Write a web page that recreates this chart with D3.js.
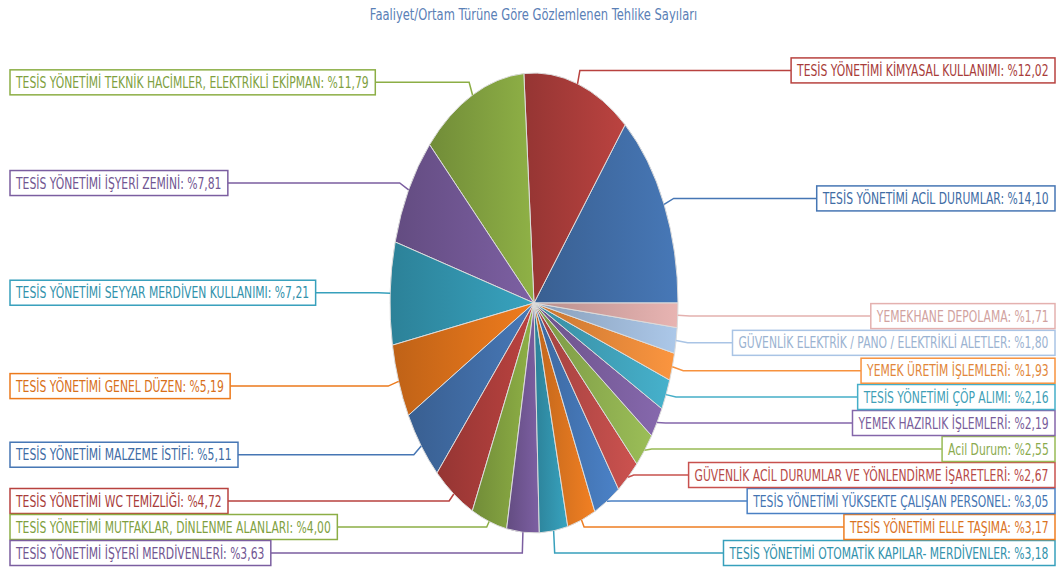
<!DOCTYPE html>
<html>
<head>
<meta charset="utf-8">
<script src="https://cdn.jsdelivr.net/npm/d3@7/dist/d3.min.js"></script>
<style>
  body { margin: 0; background: #fff; }
  svg { display: block; }
</style>
</head>
<body>
<script>
// ---- data ----
const chartTitle = "Faaliyet/Ortam Türüne Göre Gözlemlenen Tehlike Sayıları";

const categories = [
  "TESİS YÖNETİMİ ACİL DURUMLAR",
  "TESİS YÖNETİMİ KİMYASAL KULLANIMI",
  "TESİS YÖNETİMİ TEKNİK HACİMLER, ELEKTRİKLİ EKİPMAN",
  "TESİS YÖNETİMİ İŞYERİ ZEMİNİ",
  "TESİS YÖNETİMİ SEYYAR MERDİVEN KULLANIMI",
  "TESİS YÖNETİMİ GENEL DÜZEN",
  "TESİS YÖNETİMİ MALZEME İSTİFİ",
  "TESİS YÖNETİMİ WC TEMİZLİĞİ",
  "TESİS YÖNETİMİ MUTFAKLAR, DİNLENME ALANLARI",
  "TESİS YÖNETİMİ İŞYERİ MERDİVENLERİ",
  "TESİS YÖNETİMİ OTOMATİK KAPILAR- MERDİVENLER",
  "TESİS YÖNETİMİ ELLE TAŞIMA",
  "TESİS YÖNETİMİ YÜKSEKTE ÇALIŞAN PERSONEL",
  "GÜVENLİK ACİL DURUMLAR VE YÖNLENDİRME İŞARETLERİ",
  "Acil Durum",
  "YEMEK HAZIRLIK İŞLEMLERİ",
  "TESİS YÖNETİMİ ÇÖP ALIMI",
  "YEMEK ÜRETİM İŞLEMLERİ",
  "GÜVENLİK ELEKTRİK / PANO / ELEKTRİKLİ ALETLER",
  "YEMEKHANE DEPOLAMA"
];

const shares = [
  14.10, 12.02, 11.79, 7.81, 7.21, 5.19, 5.11, 4.72, 4.00, 3.63,
  3.18, 3.17, 3.05, 2.67, 2.55, 2.19, 2.16, 1.93, 1.80, 1.71
];

const palette = [
  "#4676B4", "#B8423F", "#8CAE45", "#7B5EA0", "#37A0BC", "#EC7A1C",
  "#4676B4", "#B8423F", "#8CAE45", "#7B5EA0", "#37A0BC", "#EE7E22",
  "#4A80C4", "#C8514E", "#98BB55", "#8466AA", "#45AEC8", "#F7923E",
  "#A9C4E5", "#E4B1AF"
];

// ---- layout ----
const W = 1063, H = 574;
const cx = 534, cy = 303, rx = 144, ry = 230;
const fontFamily = "'DejaVu Sans', Verdana, sans-serif";
const fontSize = 15, squeeze = 0.72, pad = 6, boxH = 25, rowH = 26;
const labelReach = 14, elbowLen = 12;
const leftX = 10, rightX = 1055, bandTop = 20, bandBottom = 566;

const svg = d3.select("body").append("svg")
  .attr("width", W).attr("height", H);

const rows = categories.map((name, i) => ({ name, value: shares[i], color: palette[i], i }));

// pie starts at 3 o'clock and runs counter-clockwise
const pie = d3.pie().value(d => d.value).sort(null)
  .startAngle(Math.PI / 2).endAngle(Math.PI / 2 - 2 * Math.PI);
const arcs = pie(rows);

const defs = svg.append("defs");
arcs.forEach(a => {
  const base = d3.color(a.data.color);
  const g = defs.append("linearGradient").attr("id", "slice" + a.data.i)
    .attr("x1", 0).attr("y1", 0).attr("x2", 1).attr("y2", 0);
  g.append("stop").attr("offset", "0%").attr("stop-color", base.darker(0.6));
  g.append("stop").attr("offset", "100%").attr("stop-color", base.brighter(0.05));
});

// title
svg.append("text")
  .attr("transform", `translate(${W / 2 + 2},20) scale(${squeeze},1)`)
  .attr("text-anchor", "middle")
  .attr("font-family", fontFamily).attr("font-size", 16)
  .attr("fill", "#5A80B6")
  .text(chartTitle);

// slices: a circular arc generator stretched into the ellipse
const arcGen = d3.arc().innerRadius(0).outerRadius(ry);
svg.append("g")
  .attr("transform", `translate(${cx},${cy}) scale(${rx / ry},1)`)
  .selectAll("path").data(arcs).join("path")
  .attr("d", arcGen)
  .attr("fill", d => `url(#slice${d.data.i})`)
  .attr("stroke", "#dcdcdc")
  .attr("stroke-width", 1)
  .attr("vector-effect", "non-scaling-stroke");

// label geometry
const fmt = v => d3.format(".2f")(v).replace(".", ",");
arcs.forEach(a => {
  a.mid = (a.startAngle + a.endAngle) / 2;
  a.right = Math.sin(a.mid) > 0;
  a.edge = [cx + rx * Math.sin(a.mid), cy - ry * Math.cos(a.mid)];
  const vx = rx * Math.sin(a.mid), vy = -ry * Math.cos(a.mid);
  const n = Math.hypot(vx, vy);
  a.dir = [vx / n, vy / n];
  a.want = cy - (ry + labelReach) * Math.cos(a.mid);
  a.text = `${a.data.name}: %${fmt(a.data.value)}`;
});

// spread labels in a column: overlaps borrow free space from neighbouring gaps
function distribute(items) {
  items.sort((p, q) => p.want - q.want);
  const n = items.length;
  const tops = items.map(d => d.want - rowH / 2);
  const gaps = [tops[0] - bandTop];
  for (let i = 1; i < n; i++) gaps.push(tops[i] - tops[i - 1] - rowH);
  gaps.push(bandBottom - (tops[n - 1] + rowH));
  const take = (anchor, pos, amount) => {
    if (pos >= 0 && pos < gaps.length && gaps[pos] > 0) {
      const avail = Math.min(gaps[pos], amount);
      gaps[pos] -= avail; gaps[anchor] += avail; amount -= avail;
    }
    return amount;
  };
  for (let i = 0; i < gaps.length; i++) {
    let rem = -gaps[i];
    if (rem > 0) {
      let l = i, r = i;
      while (rem > 0.0001 && (l >= 0 || r < gaps.length)) {
        rem = take(i, --l, rem);
        rem = take(i, ++r, rem);
      }
    }
  }
  let y = bandTop + gaps[0];
  items.forEach((d, i) => {
    d.ly = y + rowH / 2;
    y += rowH + gaps[i + 1];
  });
}
distribute(arcs.filter(a => !a.right));
distribute(arcs.filter(a => a.right));

const linkLayer = svg.append("g");
const labelLayer = svg.append("g");

arcs.forEach(a => {
  const col = d3.color(a.data.color);
  const g = labelLayer.append("g");
  const rect = g.append("rect");
  const t = g.append("text")
    .attr("font-family", fontFamily).attr("font-size", fontSize)
    .attr("fill", col.darker(0.25))
    .text(a.text);
  const tw = t.node().getComputedTextLength() * squeeze;
  const bw = tw + 2 * pad;
  const bx = a.right ? rightX - bw : leftX;
  const by = a.ly - boxH / 2;
  rect.attr("x", bx).attr("y", by).attr("width", bw).attr("height", boxH)
    .attr("fill", "#fff").attr("stroke", col).attr("stroke-width", 1.5);
  t.attr("transform", `translate(${bx + pad},${a.ly + 5.5}) scale(${squeeze},1)`);

  const elbow = [a.edge[0] + a.dir[0] * elbowLen, a.ly];
  const end = [a.right ? bx : bx + bw, a.ly];
  linkLayer.append("path")
    .attr("d", d3.line()([a.edge, elbow, end]))
    .attr("fill", "none").attr("stroke", col).attr("stroke-width", 1.5);
});
</script>
</body>
</html>
